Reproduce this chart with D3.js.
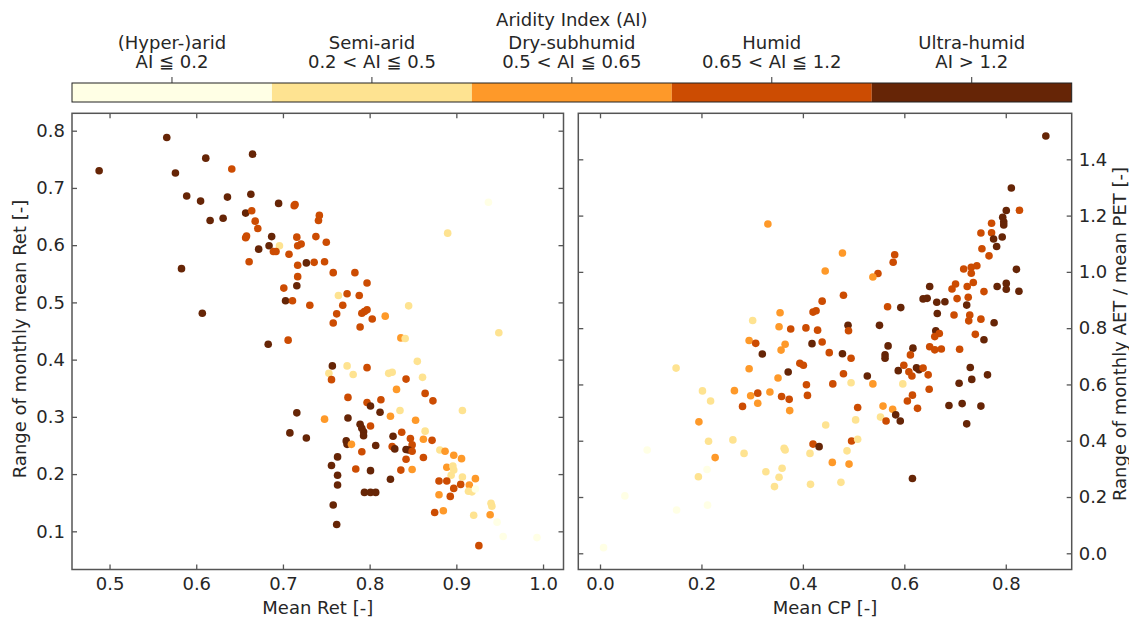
<!DOCTYPE html>
<html><head><meta charset="utf-8">
<script src="https://cdn.jsdelivr.net/npm/d3@7"></script>
<style>body{margin:0;background:#fff}svg{display:block}text{font-family:"DejaVu Sans",sans-serif;fill:#262626}</style>
</head><body><svg id="c" width="1129" height="619"></svg>
<script>
const classNames = ["(Hyper-)arid","Semi-arid","Dry-subhumid","Humid","Ultra-humid"];
const classRanges = ["AI \u2266 0.2","0.2 < AI \u2266 0.5","0.5 < AI \u2266 0.65","0.65 < AI \u2266 1.2","AI > 1.2"];
const classColors = ["#ffffe5","#fee391","#fe9929","#cc4c02","#662506"];
const legendTitle = "Aridity Index (AI)";

const leftXTicks = [0.5,0.6,0.7,0.8,0.9,1.0];
const leftYTicks = [0.1,0.2,0.3,0.4,0.5,0.6,0.7,0.8];
const rightXTicks = [0.0,0.2,0.4,0.6,0.8];
const rightYTicks = [0.0,0.2,0.4,0.6,0.8,1.0,1.2,1.4];
const leftXLabel = "Mean Ret [-]";
const leftYLabel = "Range of monthly mean Ret [-]";
const rightXLabel = "Mean CP [-]";
const rightYLabel = "Range of monthly AET / mean PET [-]";

// Left panel: mean Ret vs range of monthly mean Ret, aridity class index
const leftX = [0.488,0.566,0.576,0.611,0.665,0.641,0.589,0.605,0.636,0.663,0.616,0.631,0.657,0.664,0.668,0.671,0.657,0.658,0.687,0.684,0.672,0.696,0.689,0.692,0.661,0.695,0.714,0.713,0.707,0.716,0.717,0.721,0.727,0.717,0.717,0.716,0.701,0.703,0.711,0.731,0.736,0.738,0.583,0.607,
0.742,0.741,0.750,0.748,0.758,0.783,0.797,0.764,0.774,0.788,0.769,0.762,0.791,0.794,0.797,0.803,0.758,0.789,0.818,0.845,0.890,0.683,0.706,0.836,0.841,0.937,0.949,
0.757,0.774,0.753,0.756,0.781,0.797,0.822,0.826,0.855,0.842,0.861,0.831,0.864,0.873,0.775,0.797,0.801,0.813,0.812,0.835,0.907,0.716,0.748,0.775,0.824,0.853,0.789,0.791,0.793,0.793,0.801,0.708,0.727,0.837,0.864,0.827,0.847,0.849,0.862,0.872,0.773,0.774,0.779,0.807,0.826,0.829,0.842,0.845,0.849,0.791,0.842,0.862,0.881,0.887,0.897,0.906,0.889,0.896,0.897,0.894,0.763,0.756,0.784,0.801,0.836,0.849,0.763,0.763,0.824,0.880,0.889,0.897,0.905,0.907,0.915,0.922,0.914,0.918,0.922,0.880,0.893,0.794,0.801,0.807,0.758,0.762,0.875,0.885,0.940,0.941,0.939,0.920,0.947,0.954,0.926,0.993];
const leftY = [0.730,0.788,0.726,0.752,0.759,0.733,0.686,0.677,0.684,0.689,0.643,0.647,0.656,0.660,0.642,0.629,0.613,0.616,0.615,0.599,0.593,0.599,0.589,0.589,0.571,0.673,0.671,0.669,0.584,0.614,0.599,0.602,0.569,0.565,0.545,0.529,0.525,0.503,0.503,0.495,0.570,0.615,0.559,0.481,
0.652,0.643,0.605,0.571,0.552,0.552,0.534,0.512,0.515,0.512,0.495,0.480,0.481,0.484,0.487,0.471,0.464,0.457,0.476,0.494,0.621,0.427,0.434,0.438,0.437,0.675,0.447,
0.389,0.389,0.376,0.365,0.374,0.386,0.376,0.378,0.397,0.366,0.369,0.348,0.341,0.328,0.334,0.325,0.319,0.330,0.308,0.311,0.311,0.307,0.296,0.298,0.301,0.294,0.287,0.280,0.274,0.267,0.284,0.272,0.263,0.273,0.275,0.266,0.262,0.251,0.261,0.259,0.258,0.252,0.252,0.250,0.248,0.244,0.243,0.242,0.240,0.239,0.226,0.229,0.242,0.240,0.233,0.227,0.212,0.214,0.207,0.198,0.230,0.215,0.209,0.206,0.207,0.208,0.198,0.181,0.191,0.188,0.188,0.175,0.182,0.195,0.181,0.192,0.170,0.169,0.174,0.164,0.161,0.168,0.168,0.168,0.146,0.112,0.133,0.136,0.149,0.144,0.129,0.128,0.116,0.091,0.075,0.089];
const leftClass = [4,4,4,4,4,3,4,4,4,4,4,4,4,3,3,3,3,3,4,4,4,1,3,3,3,4,3,3,3,3,3,3,4,3,3,4,3,4,3,3,3,3,4,4,
3,3,3,3,3,3,3,1,3,3,3,3,3,3,3,3,3,3,2,1,1,4,3,2,1,0,1,
4,1,1,3,1,3,1,1,1,3,1,2,3,3,3,3,4,3,4,1,1,4,2,4,2,2,4,4,4,4,3,4,4,3,1,4,3,3,2,3,4,4,2,4,3,4,4,4,3,3,3,3,1,2,2,2,2,1,1,1,4,4,3,4,3,2,4,4,4,3,3,3,3,1,2,2,1,1,0,2,3,4,4,4,4,4,3,2,1,1,2,1,0,0,3,0];

// Right panel: mean CP vs range of monthly AET / mean PET, aridity class index
const rightX = [0.331,0.444,0.438,0.420,0.426,0.355,0.301,0.353,0.376,0.406,0.429,0.478,0.581,0.578,0.548,0.538,0.480,0.489,0.490,0.294,0.307,0.365,0.357,0.320,0.418,0.438,0.452,0.478,0.495,0.394,0.401,0.294,0.371,0.480,0.351,0.407,0.459,0.495,0.527,0.538,0.202,0.218,0.265,0.297,0.311,0.335,0.311,0.281,0.358,0.373,0.409,0.374,0.195,0.508,0.504,0.445,0.558,0.577,0.553,0.564,0.583,0.592,0.214,0.262,0.227,0.284,0.363,0.365,0.414,0.420,0.432,0.496,0.508,0.487,0.458,0.491,0.327,0.359,0.353,0.194,0.211,0.616,
0.753,0.767,0.717,0.732,0.743,0.732,0.701,0.694,0.724,0.736,0.650,0.637,0.645,0.664,0.680,0.704,0.723,0.726,0.757,0.567,0.593,0.665,0.698,0.729,0.727,0.751,0.757,0.740,0.551,0.662,0.669,0.660,0.568,0.562,0.562,0.617,0.650,0.660,0.673,0.709,0.612,0.599,0.588,0.609,0.615,0.624,0.629,0.637,0.647,0.649,0.597,0.616,0.606,0.626,0.730,0.733,0.708,0.764,0.688,0.714,0.751,0.723,
0.879,0.811,0.801,0.827,0.794,0.796,0.796,0.772,0.751,0.772,0.776,0.793,0.782,0.821,0.783,0.801,0.801,0.826,0.777,
0.475,0.150,0.093,0.212,0.344,0.415,0.049,0.151,0.007];
const rightY = [1.170,1.003,0.896,0.857,0.862,0.855,0.827,0.805,0.797,0.801,0.793,1.067,1.061,1.034,0.994,0.982,0.917,0.810,0.791,0.756,0.746,0.743,0.722,0.708,0.745,0.751,0.713,0.709,0.693,0.675,0.668,0.656,0.644,0.638,0.623,0.599,0.602,0.606,0.630,0.602,0.577,0.541,0.578,0.560,0.569,0.573,0.533,0.522,0.557,0.547,0.561,0.507,0.467,0.518,0.474,0.456,0.523,0.512,0.484,0.470,0.492,0.470,0.398,0.403,0.340,0.355,0.373,0.367,0.355,0.388,0.379,0.399,0.405,0.364,0.323,0.317,0.290,0.302,0.270,0.272,0.298,0.266,
1.082,1.057,1.010,1.016,1.022,0.995,0.957,0.939,0.948,0.962,0.948,0.904,0.906,0.892,0.894,0.905,0.882,0.910,0.930,0.876,0.873,0.852,0.847,0.847,0.826,0.832,0.759,0.778,0.810,0.791,0.781,0.770,0.737,0.705,0.693,0.729,0.734,0.723,0.726,0.725,0.705,0.668,0.649,0.645,0.630,0.659,0.652,0.658,0.634,0.583,0.602,0.562,0.541,0.515,0.660,0.618,0.604,0.634,0.525,0.532,0.523,0.460,
1.483,1.298,1.218,1.219,1.194,1.178,1.167,1.173,1.138,1.139,1.117,1.124,1.090,1.009,0.948,0.959,0.938,0.931,0.819,
0.252,0.658,0.367,0.171,0.237,0.245,0.204,0.154,0.020];
const rightClass = [2,2,3,3,3,2,1,2,3,3,3,2,3,3,3,2,3,4,3,2,3,2,2,4,4,3,3,4,3,3,3,2,4,3,2,3,3,1,4,2,1,1,2,2,3,2,2,3,3,3,3,2,2,3,1,1,2,2,1,3,4,4,1,1,2,1,1,1,1,3,4,3,1,1,2,2,1,1,1,1,0,4,
3,3,3,3,3,3,3,3,3,3,4,4,4,4,4,3,4,3,3,3,4,4,3,3,3,3,4,3,4,4,3,3,4,4,4,4,3,3,3,3,3,3,4,3,3,4,4,3,3,3,1,3,3,3,4,4,4,4,4,4,4,4,
4,4,4,3,4,4,4,3,3,3,4,4,4,4,4,4,4,4,4,
1,1,0,0,1,1,0,0,0];

const svg = d3.select("#c");
const FS = 18, AX = "#555", TXT = "#262626";

// ---------- colour bar legend ----------
const cb = {x0:72, x1:1071.7, y0:83, y1:102};
const cbScale = d3.scaleBand().domain(d3.range(classNames.length)).range([cb.x0, cb.x1]).padding(0);
const lg = svg.append("g");
lg.selectAll("rect.seg").data(classColors).join("rect")
  .attr("x",(d,i)=>cbScale(i)).attr("y",cb.y0).attr("width",cbScale.bandwidth()).attr("height",cb.y1-cb.y0)
  .attr("fill",d=>d);
lg.append("rect").attr("x",cb.x0).attr("y",cb.y0).attr("width",cb.x1-cb.x0).attr("height",cb.y1-cb.y0)
  .attr("fill","none").attr("stroke","#222").attr("stroke-width",1);
classNames.forEach((n,i)=>{
  const cx = cbScale(i)+cbScale.bandwidth()/2;
  lg.append("line").attr("x1",cx).attr("x2",cx).attr("y1",cb.y0).attr("y2",cb.y0-6).attr("stroke","#333").attr("stroke-width",1);
  lg.append("text").attr("x",cx).attr("y",49).attr("text-anchor","middle").attr("font-size",FS).text(n);
  lg.append("text").attr("x",cx).attr("y",68).attr("text-anchor","middle").attr("font-size",FS).text(classRanges[i]);
});
lg.append("text").attr("x",(cb.x0+cb.x1)/2).attr("y",26).attr("text-anchor","middle").attr("font-size",FS).text(legendTitle);

// ---------- panels ----------
function panel(cfg){
  const {x0,x1,y0,y1,xd,yd,xt,yt,xs,ys,cs,yRight,xLab,yLab,yLabX,yLabY} = cfg;
  const x = d3.scaleLinear().domain(xd).range([x0,x1]);
  const y = d3.scaleLinear().domain(yd).range([y1,y0]);
  const g = svg.append("g");
  const fmt = d3.format(".1f");
  g.append("g").selectAll("circle").data(xs.map((v,i)=>[v,ys[i],cs[i]])).join("circle")
    .attr("cx",d=>x(d[0])).attr("cy",d=>y(d[1])).attr("r",3.8)
    .attr("fill",d=>classColors[d[2]]);
  const bottom = g.append("g").attr("transform",`translate(0,${y1})`)
    .call(d3.axisBottom(x).tickValues(xt).tickFormat(fmt).tickSize(-5).tickPadding(8));
  const top = g.append("g").attr("transform",`translate(0,${y0})`)
    .call(d3.axisTop(x).tickValues(xt).tickFormat("").tickSize(-5));
  const left = g.append("g").attr("transform",`translate(${x0},0)`)
    .call(d3.axisLeft(y).tickValues(yt).tickFormat(yRight?"":fmt).tickSize(-5).tickPadding(7));
  const right = g.append("g").attr("transform",`translate(${x1},0)`)
    .call(d3.axisRight(y).tickValues(yt).tickFormat(yRight?fmt:"").tickSize(-5).tickPadding(7));
  [bottom,top,left,right].forEach(a=>{
    a.select(".domain").remove();
    a.selectAll(".tick line").attr("stroke",AX).attr("stroke-width",1.3);
    a.selectAll(".tick text").attr("font-size",FS).attr("fill",TXT).attr("font-family","DejaVu Sans");
  });
  g.append("rect").attr("x",x0).attr("y",y0).attr("width",x1-x0).attr("height",y1-y0)
    .attr("fill","none").attr("stroke",AX).attr("stroke-width",1.5);
  g.append("text").attr("x",(x0+x1)/2).attr("y",614).attr("text-anchor","middle").attr("font-size",FS).text(xLab);
  g.append("text").attr("transform",`translate(${yLabX},${yLabY}) rotate(-90)`)
    .attr("text-anchor","middle").attr("dy","0.35em").attr("font-size",FS).text(yLab);
}

panel({x0:72,x1:563.5,y0:113.3,y1:569.5,xd:[0.4567,1.0236],yd:[0.0333,0.8304],
  xt:leftXTicks,yt:leftYTicks,xs:leftX,ys:leftY,cs:leftClass,yRight:false,
  xLab:leftXLabel,yLab:leftYLabel,yLabX:20,yLabY:339});
panel({x0:578.3,x1:1071.7,y0:113.3,y1:569.5,xd:[-0.0428,0.930],yd:[-0.0576,1.5635],
  xt:rightXTicks,yt:rightYTicks,xs:rightX,ys:rightY,cs:rightClass,yRight:true,
  xLab:rightXLabel,yLab:rightYLabel,yLabX:1120,yLabY:334});
</script></body></html>
